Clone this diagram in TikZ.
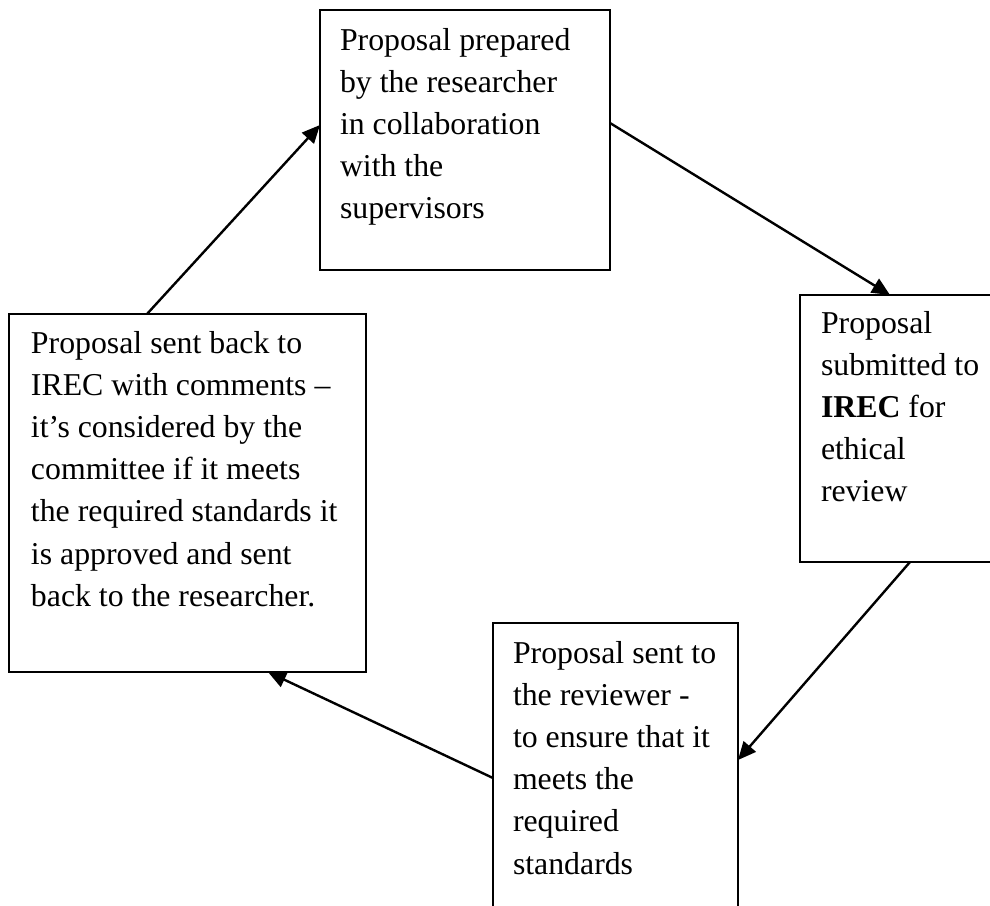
\documentclass[tikz,border=0pt]{standalone}
\usepackage{fontspec}
\setmainfont{Liberation Serif}
\usetikzlibrary{arrows.meta,calc}
\tikzset{
  box/.style={draw, line width=1.1pt, inner sep=0pt, outer sep=0pt, anchor=north west, fill=none},
  txt/.style={anchor=base west, inner sep=0pt, outer sep=0pt, align=left,
    font={\fontsize{15.9}{21.1}\selectfont},
    execute at begin node={\spaceskip=0pt\xspaceskip=0pt\relax}},
  arr/.style={line width=1.2pt, -{Triangle[length=9pt,width=8pt]}}
}
\begin{document}
\begin{tikzpicture}[x=0.5pt,y=-0.5pt]
\useasboundingbox (0,0) rectangle (990,905);
\fill[white] (0,0) rectangle (990,905);
\clip (0,0) rectangle (990,905);
% boxes
\node[box, minimum width=145pt, minimum height=130pt] (A) at (320,10) {};
\node[box, minimum width=110pt, minimum height=133.5pt] (B) at (800,295) {};
\node[box, minimum width=122.5pt, minimum height=150pt] (C) at (493,623) {};
\node[box, minimum width=178.5pt, minimum height=179pt] (D) at (9,314) {};
% texts
\node[txt, text width=140pt] (At) at (340,50) {Proposal prepared\\by the researcher\\in collaboration\\with the\\supervisors};
\node[txt, text width=90pt] (Bt) at (821,333) {Proposal\\submitted to\\\textbf{IREC} for\\ethical\\review};
\node[txt, text width=115pt] (Ct) at (513,663) {Proposal sent to\\the reviewer -\\to ensure that it\\meets the\\required\\standards};
\node[txt, text width=172pt] (Dt) at (31,353) {Proposal sent back to\\IREC with comments –\\it’s considered by the\\committee if it meets\\the required standards it\\is approved and sent\\back to the researcher.};
% connector end points
\coordinate (a1) at ($(A.north east)+(0,113)$);
\coordinate (b1) at ($(B.north west)+(90,0)$);
\coordinate (b2) at ($(B.south west)+(110,0)$);
\coordinate (c1) at ($(C.north east)+(0,137)$);
\coordinate (c2) at ($(C.north west)+(0,155)$);
\coordinate (d1) at ($(D.south west)+(259,0)$);
\coordinate (d2) at ($(D.north west)+(138,0)$);
\coordinate (a2) at ($(A.north west)+(0,115)$);
% connectors
\draw[arr] (a1) -- (b1);
\draw[arr] (b2) -- (c1);
\draw[arr] (c2) -- (d1);
\draw[arr] (d2) -- (a2);
\end{tikzpicture}
\end{document}
